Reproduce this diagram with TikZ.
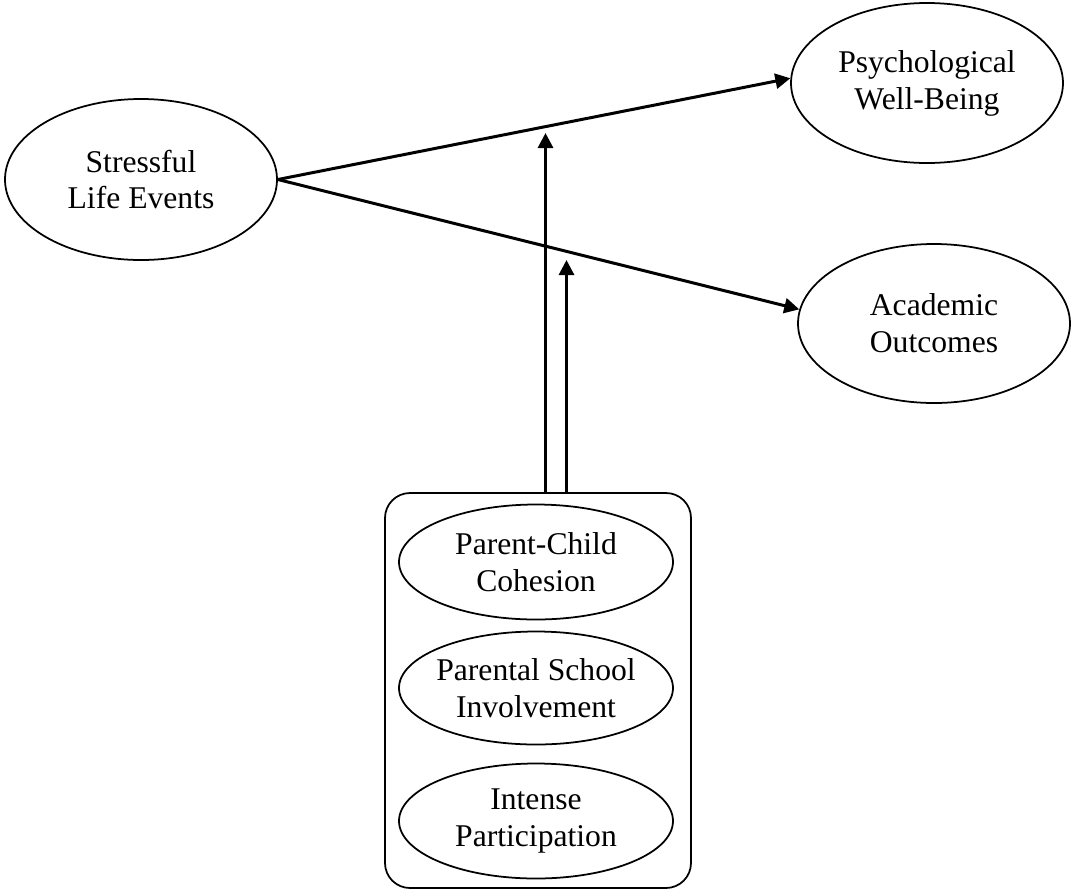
\documentclass[tikz,border=0pt]{standalone}
\usepackage{fontspec}
\setmainfont{Liberation Serif}
\usetikzlibrary{positioning,calc,shapes.geometric,arrows.meta}

\tikzset{
  construct/.style={ellipse, draw, line width=1pt, inner ysep=0pt,
    inner xsep=-4mm, align=center, font=\fontsize{18}{21}\selectfont},
  modbox/.style={draw, line width=1pt, rounded corners=0.5cm, inner sep=0pt},
  path arrow/.style={line width=1.7pt, -{Triangle[length=0.3cm, width=0.3cm]}}
}

\begin{document}
\begin{tikzpicture}

\useasboundingbox (0,0) rectangle (21.44,-17.8);

% --- OUTER CONSTRUCTS ---
\node[construct, minimum width=5.44cm, minimum height=3.22cm]
  (sle) at (2.82,-3.59) {Stressful\\Life Events};
\node[construct, minimum width=5.44cm, minimum height=3.2cm]
  (pwb) at (18.54,-1.66) {Psychological\\Well-Being};
\node[construct, minimum width=5.44cm, minimum height=3.18cm]
  (aco) at (18.68,-6.47) {Academic\\Outcomes};

% --- MODERATORS (box + three ellipses) ---
\node[modbox, minimum width=6.12cm, minimum height=7.9cm]
  (mods) at (10.76,-13.81) {};
\node[construct, minimum width=5.48cm, minimum height=2.3cm]
  (pcc) at (10.72,-11.24) {Parent-Child\\Cohesion};
\node[construct, minimum width=5.48cm, minimum height=2.26cm]
  (psi) at (10.72,-13.76) {Parental School\\Involvement};
\node[construct, minimum width=5.48cm, minimum height=2.3cm]
  (ipa) at (10.72,-16.42) {Intense\\Participation};

% --- MAIN PATHS ---
\draw[path arrow] (sle.east) -- (pwb.178);
\draw[path arrow] (sle.east) -- (aco.174);

% --- MODERATION ARROWS ---
\coordinate (tipA) at (10.91,-2.66);
\coordinate (tipB) at (11.33,-5.20);
\draw[path arrow] (mods.north -| tipA) -- (tipA);
\draw[path arrow] (mods.north -| tipB) -- (tipB);

\end{tikzpicture}
\end{document}
